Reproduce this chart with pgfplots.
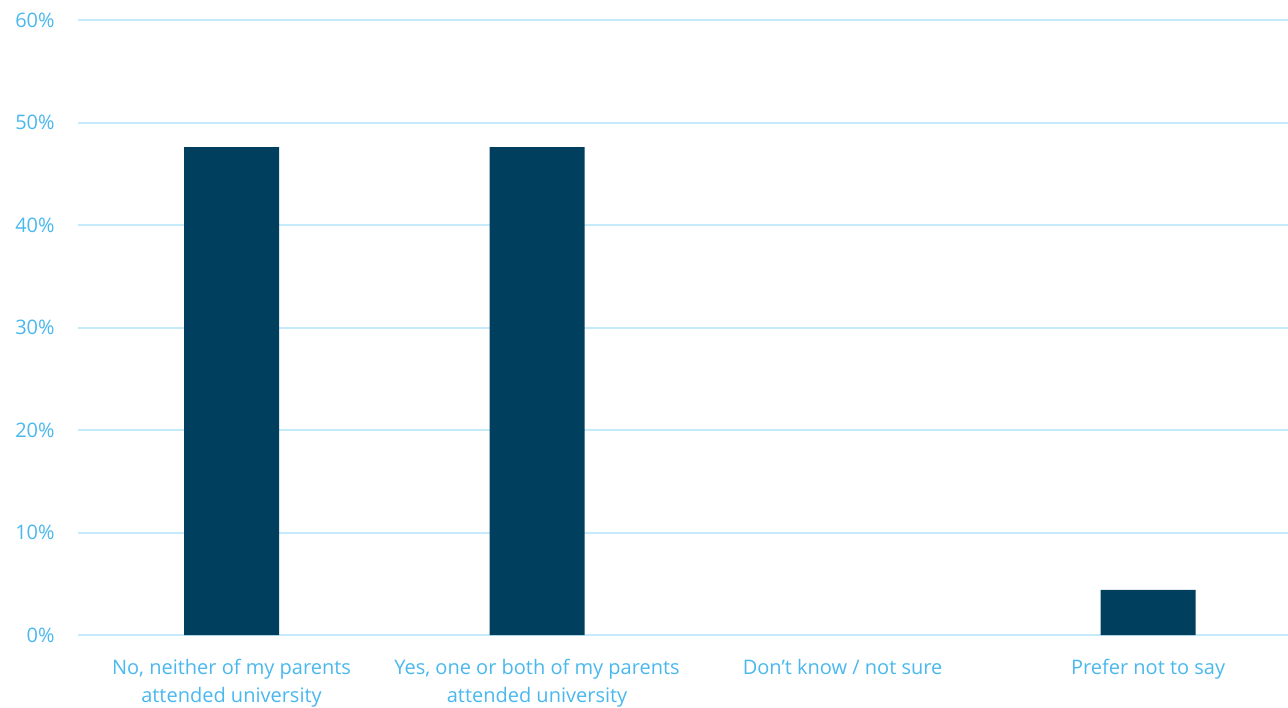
\documentclass[border=0pt]{standalone}
\usepackage{pgfplots}
\pgfplotsset{compat=1.18}
\usepackage{fontspec}
\setmainfont{Open Sans}
\definecolor{txt}{HTML}{4AB8EE}
\definecolor{barc}{HTML}{003F5E}
\definecolor{gridc}{HTML}{C5EAFA}
\begin{document}
\begin{tikzpicture}
\begin{axis}[
  scale only axis,
  width=605pt, height=307.5pt,
  xmin=-0.5025, xmax=3.458,
  ymin=0, ymax=60,
  ytick={0,10,20,30,40,50,60},
  xtick={0,1,2,3},
  xticklabels={{No, neither of my parents\\attended university},{Yes, one or both of my parents\\attended university},{Don’t know / not sure},{Prefer not to say}},
  axis line style={draw=none},
  major tick style={draw=none},
  ymajorgrids,
  grid style={gridc, line width=1pt},
  yticklabel={\pgfmathprintnumber{\tick}\%},
  /pgf/number format/assume math mode=true,
  yticklabel style={font=\fontsize{10}{12}\selectfont, text=txt, inner sep=0pt, anchor=east, xshift=-11.5pt},
  xticklabel style={font=\fontsize{10}{14}\selectfont, text=txt, inner sep=0pt, anchor=north, align=center, yshift=-12pt},
  clip=false,
  unbounded coords=discard,
]
\addplot[ybar, bar width=0.311, fill=barc, draw=none, y filter/.expression={y==0 ? nan : y}] coordinates {(0,47.6) (1,47.6) (2,0) (3,4.4)};
\coordinate (sw) at (rel axis cs:0,0);
\coordinate (ne) at (rel axis cs:1,1);
\end{axis}
\pgfresetboundingbox
\path ([shift={(-39pt,-36.5pt)}]sw) rectangle ([shift={(0pt,10pt)}]ne);
\end{tikzpicture}
\end{document}
